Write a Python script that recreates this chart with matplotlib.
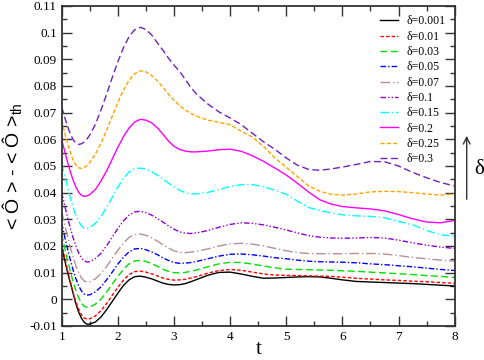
import numpy as np
import matplotlib
matplotlib.use('Agg')
import matplotlib.pyplot as plt
from matplotlib.patches import FancyArrowPatch

plt.rcParams['mathtext.fontset'] = 'custom'
plt.rcParams['mathtext.rm'] = 'Liberation Sans'
plt.rcParams['mathtext.it'] = 'Liberation Sans:italic'

t = [1.0, 1.05, 1.1, 1.15, 1.2, 1.25, 1.3, 1.35, 1.4, 1.45, 1.5,
     1.6, 1.7, 1.8, 1.9, 2.0, 2.1, 2.2, 2.3, 2.4, 2.5, 2.6, 2.7, 2.8, 2.9, 3.0, 3.1, 3.2, 3.3, 3.4,
     3.6, 3.8, 4.0, 4.2, 4.4, 4.6, 4.8, 5.0, 5.2, 5.4, 5.6, 5.8, 6.0,
     6.25, 6.5, 6.75, 7.0, 7.25, 7.5, 7.75, 8.0]

d0001 = [0.0195, 0.0150, 0.0105, 0.0065, 0.0025, -0.0015, -0.0047, -0.0070, -0.0086, -0.0093, -0.0093,
         -0.0085, -0.0066, -0.0039, -0.0008, 0.0023, 0.0052, 0.0073, 0.0085, 0.0087, 0.0083, 0.0077, 0.0069,
         0.0061, 0.0056, 0.0054, 0.0055, 0.0059, 0.0066, 0.0074,
         0.0090, 0.0101, 0.0102, 0.0095, 0.0086, 0.0079, 0.0080, 0.0082, 0.0084, 0.0085, 0.0084, 0.0079, 0.0073,
         0.0067, 0.0065, 0.0063, 0.0061, 0.0059, 0.0056, 0.0053, 0.0050]
d001 = [0.0210, 0.0161, 0.0113, 0.0068, 0.0027, -0.0008, -0.0036, -0.0057, -0.0070, -0.0074, -0.0073,
        -0.0062, -0.0042, -0.0016, 0.0015, 0.0045, 0.0072, 0.0093, 0.0104, 0.0106, 0.0102, 0.0096, 0.0088,
        0.0080, 0.0075, 0.0072, 0.0073, 0.0075, 0.0080, 0.0085,
        0.0098, 0.0108, 0.0112, 0.0109, 0.0102, 0.0095, 0.0091, 0.0090, 0.0089, 0.0088, 0.0087, 0.0086, 0.0083,
        0.0079, 0.0076, 0.0073, 0.0071, 0.0068, 0.0066, 0.0063, 0.0060]
d003 = [0.0245, 0.0197, 0.0151, 0.0108, 0.0068, 0.0034, 0.0007, -0.0014, -0.0026, -0.0030, -0.0029,
        -0.0018, 0.0001, 0.0027, 0.0057, 0.0086, 0.0113, 0.0133, 0.0144, 0.0146, 0.0142, 0.0134, 0.0124,
        0.0113, 0.0105, 0.0100, 0.0099, 0.0101, 0.0105, 0.0110,
        0.0122, 0.0133, 0.0139, 0.0138, 0.0132, 0.0125, 0.0118, 0.0113, 0.0112, 0.0111, 0.0110, 0.0109, 0.0107,
        0.0105, 0.0102, 0.0099, 0.0096, 0.0093, 0.0089, 0.0086, 0.0082]
d005 = [0.0285, 0.0238, 0.0193, 0.0151, 0.0112, 0.0079, 0.0052, 0.0032, 0.0020, 0.0016, 0.0017,
        0.0028, 0.0047, 0.0073, 0.0102, 0.0132, 0.0158, 0.0178, 0.0189, 0.0191, 0.0186, 0.0178, 0.0168,
        0.0156, 0.0146, 0.0138, 0.0135, 0.0136, 0.0138, 0.0142,
        0.0152, 0.0162, 0.0169, 0.0170, 0.0167, 0.0162, 0.0156, 0.0152, 0.0147, 0.0143, 0.0141, 0.0140, 0.0139,
        0.0137, 0.0133, 0.0130, 0.0126, 0.0122, 0.0117, 0.0112, 0.0108]
d007 = [0.0330, 0.0284, 0.0239, 0.0198, 0.0160, 0.0127, 0.0101, 0.0081, 0.0069, 0.0065, 0.0066,
        0.0077, 0.0097, 0.0123, 0.0154, 0.0184, 0.0211, 0.0232, 0.0243, 0.0245, 0.0240, 0.0231, 0.0219,
        0.0205, 0.0193, 0.0182, 0.0176, 0.0175, 0.0177, 0.0180,
        0.0189, 0.0200, 0.0208, 0.0210, 0.0207, 0.0200, 0.0191, 0.0182, 0.0175, 0.0172, 0.0171, 0.0171, 0.0171,
        0.0172, 0.0172, 0.0170, 0.0164, 0.0157, 0.0152, 0.0147, 0.0143]
d01 = [0.0400, 0.0355, 0.0311, 0.0270, 0.0233, 0.0201, 0.0175, 0.0156, 0.0144, 0.0140, 0.0141,
       0.0153, 0.0173, 0.0201, 0.0233, 0.0266, 0.0294, 0.0316, 0.0328, 0.0330, 0.0325, 0.0316, 0.0304,
       0.0290, 0.0276, 0.0263, 0.0253, 0.0248, 0.0247, 0.0249,
       0.0258, 0.0270, 0.0281, 0.0287, 0.0285, 0.0279, 0.0270, 0.0260, 0.0249, 0.0239, 0.0233, 0.0230, 0.0229,
       0.0230, 0.0232, 0.0230, 0.0222, 0.0212, 0.0203, 0.0196, 0.0191]
d015 = [0.0510, 0.0466, 0.0423, 0.0383, 0.0347, 0.0317, 0.0293, 0.0276, 0.0267, 0.0266, 0.0269,
        0.0285, 0.0311, 0.0345, 0.0383, 0.0421, 0.0454, 0.0478, 0.0491, 0.0492, 0.0488, 0.0479, 0.0466,
        0.0452, 0.0436, 0.0422, 0.0409, 0.0400, 0.0396, 0.0395,
        0.0401, 0.0412, 0.0423, 0.0430, 0.0430, 0.0422, 0.0409, 0.0394, 0.0368, 0.0344, 0.0333, 0.0324, 0.0317,
        0.0313, 0.0311, 0.0306, 0.0292, 0.0280, 0.0258, 0.0242, 0.0237]
d02 = [0.0600, 0.0558, 0.0518, 0.0481, 0.0449, 0.0422, 0.0402, 0.0390, 0.0386, 0.0388, 0.0393,
       0.0412, 0.0444, 0.0482, 0.0526, 0.0570, 0.0610, 0.0643, 0.0665, 0.0675, 0.0672, 0.0662, 0.0644,
       0.0620, 0.0594, 0.0574, 0.0562, 0.0556, 0.0553, 0.0553,
       0.0556, 0.0561, 0.0563, 0.0555, 0.0538, 0.0517, 0.0492, 0.0466, 0.0435, 0.0402, 0.0373, 0.0357, 0.0348,
       0.0343, 0.0339, 0.0332, 0.0318, 0.0302, 0.0290, 0.0287, 0.0296]
d025 = [0.0670, 0.0628, 0.0588, 0.0553, 0.0524, 0.0504, 0.0493, 0.0491, 0.0495, 0.0502, 0.0513,
        0.0544, 0.0586, 0.0634, 0.0687, 0.0739, 0.0784, 0.0822, 0.0846, 0.0857, 0.0853, 0.0840, 0.0820,
        0.0796, 0.0770, 0.0746, 0.0727, 0.0710, 0.0697, 0.0687,
        0.0672, 0.0664, 0.0655, 0.0630, 0.0608, 0.0572, 0.0530, 0.0495, 0.0460, 0.0425, 0.0405, 0.0394, 0.0391,
        0.0395, 0.0403, 0.0405, 0.0404, 0.0400, 0.0395, 0.0391, 0.0395]
d03 = [0.0722, 0.0685, 0.0652, 0.0622, 0.0600, 0.0586, 0.0581, 0.0583, 0.0590, 0.0601, 0.0616,
       0.0656, 0.0710, 0.0769, 0.0832, 0.0891, 0.0944, 0.0985, 0.1011, 0.1020, 0.1012, 0.0992, 0.0963,
       0.0935, 0.0905, 0.0878, 0.0855, 0.0825, 0.0795, 0.0770,
       0.0733, 0.0703, 0.0680, 0.0655, 0.0622, 0.0590, 0.0562, 0.0530, 0.0503, 0.0487, 0.0484, 0.0489, 0.0496,
       0.0506, 0.0517, 0.0516, 0.0500, 0.0476, 0.0456, 0.0438, 0.0425]

series = [
    (d0001, 'δ=0.001', 'black', '-'),
    (d001, 'δ=0.01', '#ff0000', (0, (2.5, 1.5))),
    (d003, 'δ=0.03', '#00e000', (0, (5, 2.5))),
    (d005, 'δ=0.05', '#0000ff', (0, (4, 1.5, 1, 1.5))),
    (d007, 'δ=0.07', '#bc8f8f', (0, (7, 2, 1, 2))),
    (d01, 'δ=0.1', '#9400d3', (0, (4, 1.5, 1, 1.5, 1, 1.5))),
    (d015, 'δ=0.15', '#00ffff', (0, (6, 2, 1, 2))),
    (d02, 'δ=0.2', '#ff00ff', '-'),
    (d025, 'δ=0.25', '#ffa500', (0, (3, 1.5))),
    (d03, 'δ=0.3', '#7221bc', (0, (5, 2.5))),
]

fig = plt.figure(figsize=(4.85, 3.6), dpi=100)
ax = fig.add_axes([61.7 / 485, 34 / 360, 393 / 485, 320 / 360])

for vals, lab, col, ls in series:
    ax.plot(t, vals, color=col, linestyle=ls, linewidth=1.0, label=lab)

ax.set_xlim(1, 8)
ax.set_ylim(-0.01, 0.11)
ax.set_xticks(np.arange(1, 9, 1))
ax.set_xticks(np.arange(1, 8.01, 0.5), minor=True)
ax.set_yticks(np.arange(-0.01, 0.1101, 0.01))
ax.set_yticks(np.arange(-0.01, 0.1101, 0.005), minor=True)
ax.set_xticklabels([str(i) for i in range(1, 9)])
ax.set_yticklabels(['-0.01', '0'] + ['%g' % v for v in np.round(np.arange(0.01, 0.1101, 0.01), 2)])
ax.tick_params(which='both', direction='in', top=True, right=True, width=1.0, color='#333333')
ax.tick_params(which='major', length=7)
ax.tick_params(which='minor', length=3.5)
for lbl in ax.get_xticklabels() + ax.get_yticklabels():
    lbl.set_fontfamily('Liberation Serif')
    lbl.set_fontsize(9.5)
for s in ax.spines.values():
    s.set_color('#333333')
    s.set_linewidth(1.3)

ax.set_xlabel('t', fontfamily='Liberation Serif', fontsize=15, labelpad=-2)
ax.set_ylabel('< Ô > - < Ô >$_{\\mathrm{th}}$', fontfamily='Liberation Sans', fontsize=14, labelpad=4)

leg = ax.legend(loc='upper right', frameon=False, handlelength=1.5, handletextpad=0.7,
                labelspacing=0.28, borderaxespad=0.4,
                prop={'family': 'Liberation Serif', 'size': 8.5})

fig.add_artist(FancyArrowPatch((466.7 / 485, 1 - 202 / 360), (466.7 / 485, 1 - 133 / 360),
                               transform=fig.transFigure, arrowstyle='->',
                               mutation_scale=12, color='#333333', lw=1.0))
fig.text(479 / 485, 1 - 170 / 360, 'δ', fontfamily='Liberation Serif', fontsize=15,
         ha='center', va='center')

plt.savefig('out.png', dpi=100)
